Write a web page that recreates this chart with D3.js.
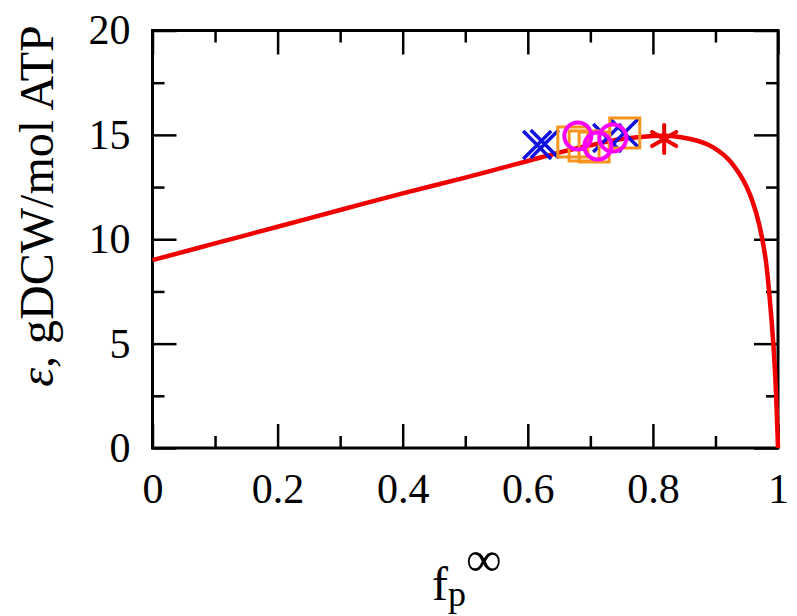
<!DOCTYPE html>
<html>
<head>
<meta charset="utf-8">
<script src="https://cdn.jsdelivr.net/npm/d3@7"></script>
<style>
  body { margin: 0; background: #fff; }
</style>
</head>
<body>
<script>
// Curve
const curveX = [0, 0.1, 0.2, 0.3, 0.4, 0.5, 0.6, 0.65, 0.7, 0.75, 0.8, 0.83, 0.86, 0.89, 0.92, 0.94, 0.95, 0.96, 0.97, 0.98, 0.99, 0.995, 1];
const curveY = [9.0, 9.8, 10.6, 11.4, 12.2, 12.95, 13.75, 14.15, 14.5, 14.8, 14.95, 14.95, 14.8, 14.5, 13.85, 13.05, 12.5, 11.75, 10.7, 9.1, 6.0, 3.8, 0];

// Markers
const crossX = [0.615, 0.627, 0.727, 0.754];
const crossY = [14.51, 14.56, 14.85, 15.09];
const squareX = [0.672, 0.690, 0.706, 0.755];
const squareY = [14.66, 14.47, 14.42, 15.09];
const circleX = [0.680, 0.712, 0.736];
const circleY = [14.95, 14.47, 14.85];
const starX = [0.818];
const starY = [14.80];

const xTicks = [0, 0.2, 0.4, 0.6, 0.8, 1];
const xMinor = [0.1, 0.3, 0.5, 0.7, 0.9];
const yTicks = [0, 5, 10, 15, 20];
const yMinor = [2.5, 7.5, 12.5, 17.5];

const width = 797, height = 616;
const margins = { left: 152.5, right: 19, top: 30.5, bottom: 168 };
const serif = "'Liberation Serif', 'Times New Roman', serif";

const xScale = d3.scaleLinear().domain([0, 1]).range([margins.left, width - margins.right]);
const yScale = d3.scaleLinear().domain([0, 20]).range([height - margins.bottom, margins.top]);

const svg = d3.select("body").append("svg")
  .attr("width", width)
  .attr("height", height)
  .style("font-family", serif);

const x0 = xScale.range()[0], x1 = xScale.range()[1];
const y0 = yScale.range()[0], y1 = yScale.range()[1];

// Ticks on all four sides, pointing inward
function addAxis(axis, tx, ty, labels) {
  const g = svg.append("g").attr("transform", `translate(${tx},${ty})`).call(axis);
  g.select(".domain").remove();
  g.attr("font-family", serif).attr("font-size", 42);
  g.selectAll(".tick line").attr("stroke", "#000").attr("stroke-width", 2.5);
  if (!labels) g.selectAll(".tick text").remove();
  g.selectAll(".tick text").attr("fill", "#000");
  return g;
}

addAxis(d3.axisBottom(xScale).tickValues(xTicks).tickSize(-24).tickPadding(25).tickFormat(d3.format("")), 0, y0, true);
addAxis(d3.axisBottom(xScale).tickValues(xMinor).tickSize(-12), 0, y0, false);
addAxis(d3.axisTop(xScale).tickValues(xTicks).tickSize(-24), 0, y1, false);
addAxis(d3.axisTop(xScale).tickValues(xMinor).tickSize(-12), 0, y1, false);

addAxis(d3.axisLeft(yScale).tickValues(yTicks).tickSize(-24).tickPadding(22), x0, 0, true);
addAxis(d3.axisLeft(yScale).tickValues(yMinor).tickSize(-12), x0, 0, false);
addAxis(d3.axisRight(yScale).tickValues(yTicks).tickSize(-24), x1, 0, false);
addAxis(d3.axisRight(yScale).tickValues(yMinor).tickSize(-12), x1, 0, false);

// Frame
svg.append("rect")
  .attr("x", x0).attr("y", y1)
  .attr("width", x1 - x0).attr("height", y0 - y1)
  .attr("fill", "none").attr("stroke", "#000").attr("stroke-width", 3);

// Red curve
const line = d3.line()
  .x((d, i) => xScale(curveX[i]))
  .y((d) => yScale(d))
  .curve(d3.curveCatmullRom.alpha(0.5));
svg.append("path")
  .attr("d", line(curveY))
  .attr("fill", "none")
  .attr("stroke", "#f00000")
  .attr("stroke-width", 4.5);

// Blue crosses
svg.append("g").selectAll("path").data(crossX).join("path")
  .attr("transform", (d, i) => `translate(${xScale(d)},${yScale(crossY[i])})`)
  .attr("d", "M-14,-14L14,14M-14,14L14,-14")
  .attr("stroke", "#1010e0").attr("stroke-width", 3.5).attr("fill", "none");

// Orange squares
svg.append("g").selectAll("rect").data(squareX).join("rect")
  .attr("x", (d) => xScale(d) - 15)
  .attr("y", (d, i) => yScale(squareY[i]) - 15)
  .attr("width", 30).attr("height", 30)
  .attr("stroke", "#f7941d").attr("stroke-width", 3).attr("fill", "none");

// Magenta circles
svg.append("g").selectAll("circle").data(circleX).join("circle")
  .attr("cx", (d) => xScale(d))
  .attr("cy", (d, i) => yScale(circleY[i]))
  .attr("r", 13.5)
  .attr("stroke", "#ff00ff").attr("stroke-width", 4).attr("fill", "none");

// Red asterisk
svg.append("g").selectAll("path").data(starX).join("path")
  .attr("transform", (d, i) => `translate(${xScale(d)},${yScale(starY[i])})`)
  .attr("d", d3.range(3).map((k) => {
    const a = Math.PI / 2 + k * Math.PI / 3;
    const dx = 14 * Math.cos(a), dy = 14 * Math.sin(a);
    return `M${-dx},${-dy}L${dx},${dy}`;
  }).join(""))
  .attr("stroke", "#f00000").attr("stroke-width", 4).attr("stroke-linecap", "round").attr("fill", "none");

// X-axis label
const xl = svg.append("text")
  .attr("x", 432).attr("y", 600)
  .attr("font-size", 48).attr("fill", "#000");
xl.append("tspan").text("f");
xl.append("tspan").attr("font-size", 36).attr("dy", 6).text("p");
xl.append("tspan").attr("font-size", 50).attr("dy", -30).text("∞");

// Y-axis label
const yl = svg.append("text")
  .attr("transform", `translate(53, 206) rotate(-90)`)
  .attr("text-anchor", "middle")
  .attr("font-size", 48).attr("fill", "#000");
yl.append("tspan").attr("font-style", "italic").text("ε");
yl.append("tspan").text(", gDCW/mol ATP");
</script>
</body>
</html>
